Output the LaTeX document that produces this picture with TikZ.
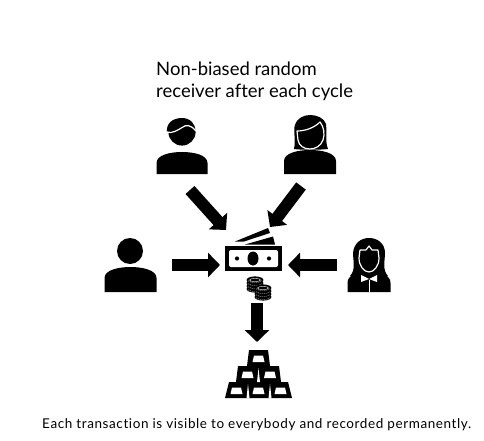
\documentclass[tikz,border=0pt]{standalone}
\usepackage{fontspec}
\setmainfont{Lato}[Ligatures=NoCommon]
\usetikzlibrary{arrows.meta}
\tikzset{
  blockarrow/.style={draw=black,line width=12pt,-{Triangle[length=12pt,width=24pt]}},
  titletext/.style={anchor=base west,inner sep=0pt,font=\fontsize{18.5}{22}\selectfont},
  captiontext/.style={anchor=base west,inner sep=0pt,font=\fontsize{13.5}{15}\selectfont\addfontfeature{LetterSpace=4.4}},
  cutline/.style={draw=white,line width=1.2pt,line join=round,line cap=round},
  icon/.style={inner sep=0pt,minimum size=1pt}
}
\newcommand{\shoulders}[4]{% cx, top, bottom, half width
  \fill[black] ({#1-#4},#3) -- ({#1-#4},{#2+11}) .. controls ({#1-#4},{#2+3}) and ({#1-12},#2) .. (#1,#2)
    .. controls ({#1+12},#2) and ({#1+#4},{#2+3}) .. ({#1+#4},{#2+11}) -- ({#1+#4},#3) -- cycle;}
\newcommand{\goldwin}[2]{% left x of bar, bottom y of bar
  \fill[white] ({#1+5.5},{#2-4}) -- ({#1+7},{#2-10.5}) -- ({#1+16},{#2-10.5}) -- ({#1+17.5},{#2-4}) -- cycle;}
\newcommand{\goldspike}[2]{% x, bottom y
  \fill[white] ({#1-1.5},#2) -- (#1,{#2-14}) -- ({#1+1.5},#2) -- cycle;}
\newcommand{\coinstack}[2]{% cx, top y
  \foreach \k in {9,6,3,0}{
    \fill[black] (#1,{#2+\k}) ellipse [x radius=8.4pt,y radius=3.6pt];
    \draw[white,line width=.4pt,dash pattern=on 1pt off 1pt] ({#1-7},{#2+\k+.8}) .. controls ({#1-4},{#2+\k+3.2}) and ({#1+4},{#2+\k+3.2}) .. ({#1+7},{#2+\k+.8});
  }
  \draw[white,line width=.4pt] (#1,#2) ellipse [x radius=5.5pt,y radius=1.6pt];}
\begin{document}
\begin{tikzpicture}[x=1pt,y=-1pt]
\useasboundingbox (0,0) rectangle (484,441);
\fill[white] (0,0) rectangle (484,441);
% texts
\node[titletext] (t1) at (156,75.5) {Non-biased random};
\node[titletext] (t2) at (156,98) {receiver after each cycle};
\node[captiontext] (t3) at (42,428) {Each transaction is visible to everybody and recorded permanently.};
% man, top left
\node[icon] (man) at (182,146) {};
\shoulders{182}{152}{174}{25.5}
\fill[black] (182,132) circle (13.6pt);
\fill[black] (167,132) .. controls (166,124) and (172,118) .. (182,118) .. controls (190,118) and (196,124) .. (195,131) -- cycle;
\draw[cutline] (167,132) .. controls (172,134) and (178,130) .. (183,127) .. controls (186,125) and (190,124) .. (196,131);
% woman, top right
\node[icon] (wom) at (310,145) {};
\fill[black] (294,149) .. controls (296,140) and (293,130) .. (295,125) .. controls (297,118) and (304,115) .. (310,115)
  .. controls (317,115) and (324,118) .. (326,124) .. controls (327,132) and (325,142) .. (328,149) .. controls (320,150) and (300,150) .. (294,149) -- cycle;
\shoulders{310}{150}{174}{26}
\draw[cutline] (297,131) .. controls (305,131) and (314,128) .. (320,122) .. controls (324,127) and (325,134) .. (323,140) .. controls (321,146) and (315,149) .. (310,149) .. controls (304,149) and (299,146) .. (298,140) -- (297,131);
% person, left
\node[icon] (per) at (130,270) {};
\fill[black] (130,251) circle (13pt);
\shoulders{130.5}{267}{292}{26}
% lady, right
\node[icon] (lad) at (369,265) {};
\fill[black] (350,276) .. controls (356,270) and (353,260) .. (353,253) .. controls (354,243) and (361,238) .. (369,238)
  .. controls (377,238) and (385,243) .. (385,253) .. controls (385,260) and (382,270) .. (388,276) .. controls (380,279) and (358,279) .. (350,276) -- cycle;
\shoulders{369}{272}{292}{21.5}
\draw[cutline] (359,258) -- (360,250) -- (366,250) -- (369,246) -- (372,250) -- (378,250) -- (379,258) .. controls (379,266) and (374,272) .. (369,272) .. controls (364,272) and (359,266) .. (359,258);
\fill[white] (369,279) -- (361,275) -- (361,282) -- cycle;
\fill[white] (369,279) -- (377,275) -- (377,282) -- cycle;
\draw[white,line width=.8pt] (369,280) -- (369,292);
% money
\node[icon] (mon) at (254,258) {};
\fill[black] (225,246) rectangle (282,271);
\fill[white,rounded corners=2pt] (229,250) rectangle (278,267);
\fill[black] (253,258.5) ellipse [x radius=5.5pt,y radius=7pt];
\fill[black] (237,258.5) circle (2.1pt);
\fill[black] (269,258.5) circle (2.1pt);
\fill[black] (235,241.5) -- (268,228) -- (270,233) -- (244,241.5) -- cycle;
\fill[black] (245,244.5) -- (273,236.5) -- (275,244.5) -- cycle;
% coins
\node[icon] (coi) at (259,287) {};
\coinstack{255}{280}
\coinstack{263}{288}
% gold
\node[icon] (gol) at (258,375) {};
\fill[black] (225,398) -- (229,382) -- (236,382) -- (238,366) -- (247,366) -- (249,350) -- (268,350) -- (270,366) -- (279,366) -- (281,382) -- (288,382) -- (292,398) -- cycle;
\goldwin{247}{366}
\goldwin{236}{382}
\goldwin{258.5}{382}
\goldwin{225}{398}
\goldwin{247}{398}
\goldwin{269}{398}
\goldspike{258.5}{382}
\goldspike{248}{398}
\goldspike{270}{398}
% connector ends
\coordinate (a1s) at (190,190); \coordinate (a1e) at (226,230);
\coordinate (a2s) at (301,186); \coordinate (a2e) at (270,227);
\coordinate (a3s) at (172,265); \coordinate (a3e) at (220,265);
\coordinate (a4s) at (337,265); \coordinate (a4e) at (288,265);
\coordinate (a5s) at (257,303); \coordinate (a5e) at (257,342);
\draw[blockarrow] (a1s) -- (a1e);
\draw[blockarrow] (a2s) -- (a2e);
\draw[blockarrow] (a3s) -- (a3e);
\draw[blockarrow] (a4s) -- (a4e);
\draw[blockarrow] (a5s) -- (a5e);
\end{tikzpicture}
\end{document}
